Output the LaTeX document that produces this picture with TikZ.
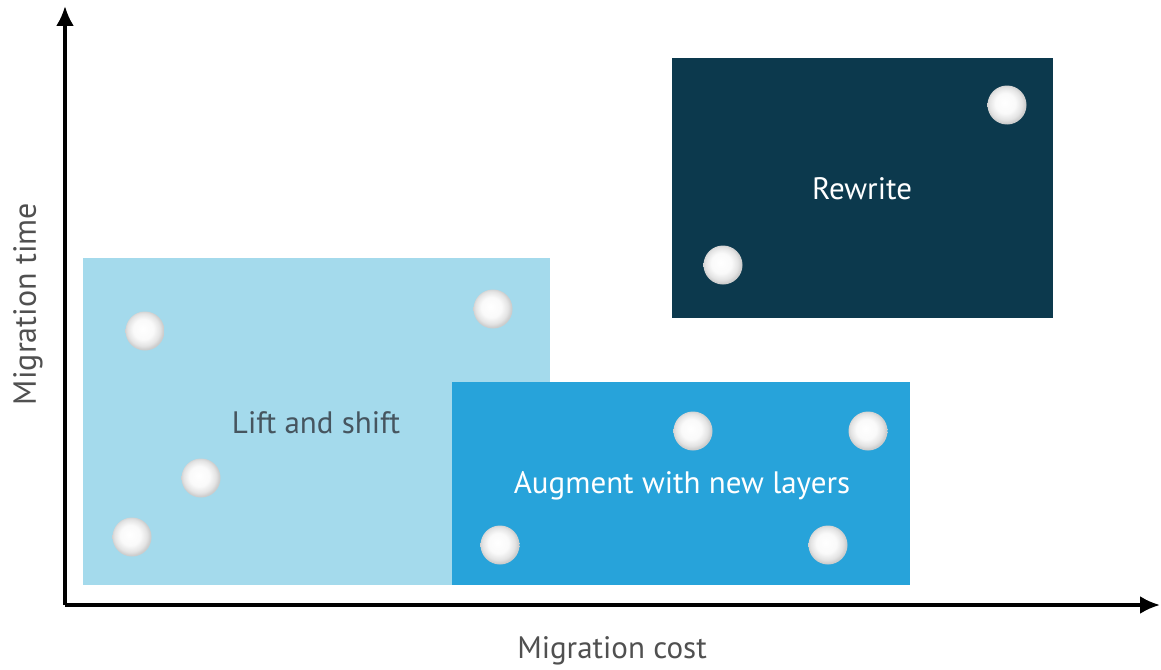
\documentclass[tikz,border=0pt]{standalone}
\usepackage{fontspec}
\setmainfont{PT Sans}
\usepackage{tikz}
\usetikzlibrary{positioning}
\usetikzlibrary{arrows.meta}
\definecolor{liftcol}{HTML}{A4DAEC}
\definecolor{augcol}{HTML}{27A3DA}
\definecolor{rewcol}{HTML}{0C394D}
\definecolor{labcol}{HTML}{505050}
\definecolor{liftlab}{HTML}{46555F}
\pgfdeclareradialshading{dotshade}{\pgfpoint{-3bp}{3bp}}{%
  color(0bp)=(white); color(13bp)=(white!96!gray);
  color(21bp)=(gray!22); color(25bp)=(gray!40); color(50bp)=(gray!40)}
\tikzset{>=Latex}

\begin{document}
\begin{tikzpicture}[x=1pt,y=-1pt,
  region/.style={draw=none, inner sep=0pt, anchor=north west},
  dot/.style={circle, inner sep=0pt, minimum size=39pt, shading=dotshade},
  regionlabel/.style={font=\fontsize{31}{36}\selectfont},
  axislabel/.style={text=labcol, font=\fontsize{31}{36}\selectfont}]

\useasboundingbox (0,0) rectangle (1161,669);

% Regions
\node[region, fill=liftcol, minimum width=467pt, minimum height=327pt] (lift) at (83,258) {};
\node[region, fill=augcol, minimum width=458pt, minimum height=203pt] (aug) at (452,382) {};
\node[region, fill=rewcol, minimum width=381pt, minimum height=260pt] (rew) at (672,58) {};

% Region labels
\node[regionlabel, text=liftlab] (liftlbl) at (316,423) {Lift and shift};
\node[regionlabel, text=white] (auglbl) at (682,486) {Augment with new layers};
\node[regionlabel, text=white] (rewlbl) at (862,189) {Rewrite};

% Dots
\node[dot] (l1) at (145,331) {};
\node[dot] (l2) at (493,309) {};
\node[dot] (l3) at (201,478) {};
\node[dot] (l4) at (132,537) {};
\node[dot] (a1) at (693,431) {};
\node[dot] (a2) at (868,431) {};
\node[dot] (a3) at (500,545) {};
\node[dot] (a4) at (828,545) {};
\node[dot] (r1) at (1007,105) {};
\node[dot] (r2) at (723,265) {};

% Axes
\coordinate (origin) at (65,605);
\coordinate (ytip) at (65,6);
\coordinate (xtip) at (1160,605);
\draw[line width=3.5pt, -{Latex[length=20pt,width=18pt]}] (origin) -- (ytip);
\draw[line width=3.5pt, -{Latex[length=20pt,width=18pt]}] (origin) -- (xtip);

% Axis labels
\node[axislabel] (xlbl) at (612,651) {Migration cost};
\node[axislabel, rotate=90, font=\fontsize{32}{36}\selectfont] (ylbl) at (28,304) {Migration time};

\end{tikzpicture}
\end{document}
